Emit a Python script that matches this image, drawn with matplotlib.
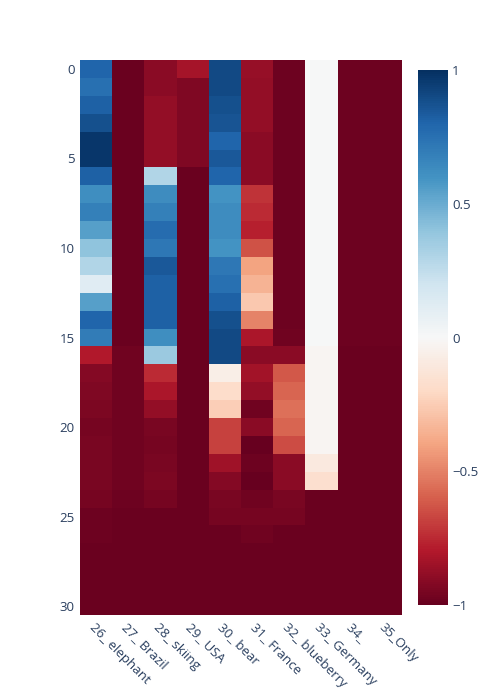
import matplotlib.pyplot as plt
import numpy as np

# etiquetas de columnas y filas
cols = ["26_ elephant", "27_ Brazil", "28_ skiing", "29_ USA", "30_ bear",
        "31_ France", "32_ blueberry", "33_ Germany", "34_ ", "35_Only"]
rows = list(range(31))

# valores por columna (fila 0 a 30)
elephant = [0.8, 0.75, 0.82, 0.88, 0.97, 0.97, 0.82, 0.62, 0.68, 0.55, 0.4,
            0.3, 0.12, 0.55, 0.8, 0.7, -0.8, -0.92, -0.93, -0.94, -0.96, -0.95,
            -0.95, -0.95, -0.96, -0.98, -0.98, -0.99, -0.99, -0.99, -0.99]
brazil = [-0.99] * 16 + [-0.97] * 8 + [-0.98, -0.99, -0.99, -0.99, -0.99, -0.99, -0.99]
skiing = [-0.9, -0.9, -0.88, -0.88, -0.88, -0.88, 0.3, 0.63, 0.68, 0.77, 0.72,
          0.85, 0.82, 0.82, 0.82, 0.62, 0.37, -0.75, -0.82, -0.88, -0.95, -0.96,
          -0.95, -0.94, -0.96, -0.99, -0.99, -0.99, -0.99, -0.99, -0.99]
usa = [-0.83, -0.93, -0.93, -0.93, -0.93, -0.93] + [-0.99] * 25
bear = [0.9, 0.9, 0.88, 0.86, 0.8, 0.85, 0.8, 0.6, 0.63, 0.63, 0.6, 0.72, 0.75,
        0.82, 0.88, 0.9, 0.9, -0.07, -0.18, -0.25, -0.68, -0.68, -0.85, -0.92,
        -0.95, -0.96, -0.99, -0.99, -0.99, -0.99, -0.99]
france = [-0.87, -0.88, -0.88, -0.88, -0.9, -0.9, -0.9, -0.72, -0.75, -0.78,
          -0.64, -0.4, -0.35, -0.27, -0.5, -0.82, -0.9, -0.84, -0.88, -0.97,
          -0.9, -1.0, -0.98, -1.0, -0.97, -0.96, -0.97, -0.99, -0.99, -0.99, -0.99]
blueberry = [-0.98] * 15 + [-0.97, -0.9, -0.62, -0.58, -0.55, -0.58, -0.65,
             -0.9, -0.9, -0.95, -0.96, -0.99, -0.99, -0.99, -0.99, -0.99]
germany = [0.0] * 16 + [-0.02] * 6 + [-0.1, -0.17] + [-0.99] * 7
col34 = [-0.98] * 16 + [-0.99] * 15
only = [-0.98] * 16 + [-0.99] * 15

z = np.array([elephant, brazil, skiing, usa, bear, france, blueberry,
              germany, col34, only]).T

txt = "#2a3f5f"
plt.rcParams['font.family'] = ['Open Sans', 'DejaVu Sans']
plt.rcParams['axes.unicode_minus'] = True

fig = plt.figure(figsize=(5, 7), dpi=100)
ax = fig.add_axes([0.16, 0.1214, 0.644, 0.7929])
mesh = ax.pcolormesh(np.arange(len(cols) + 1) - 0.5,
                     np.arange(len(rows) + 1) - 0.5,
                     z, cmap='RdBu', vmin=-1, vmax=1)
ax.set_ylim(len(rows) - 0.5, -0.5)
ax.set_xlim(-0.5, len(cols) - 0.5)

ax.set_xticks(range(len(cols)))
ax.set_xticklabels(cols, rotation=-45, ha='left', va='top',
                   rotation_mode='anchor', color=txt, fontsize=9.5)
ax.set_yticks(range(0, 31, 5))
ax.set_yticklabels([str(v) for v in range(0, 31, 5)], color=txt, fontsize=9.5)
ax.tick_params(length=0, pad=4)
for s in ax.spines.values():
    s.set_visible(False)

cax = fig.add_axes([0.836, 0.1357, 0.06, 0.7643])
cb = fig.colorbar(mesh, cax=cax, ticks=[-1, -0.5, 0, 0.5, 1])
cb.outline.set_visible(False)
cb.ax.set_yticklabels(['\u22121', '\u22120.5', '0', '0.5', '1'])
cb.ax.tick_params(length=0, pad=3, labelcolor=txt, labelsize=9.5)

plt.savefig('out.png', dpi=100)
